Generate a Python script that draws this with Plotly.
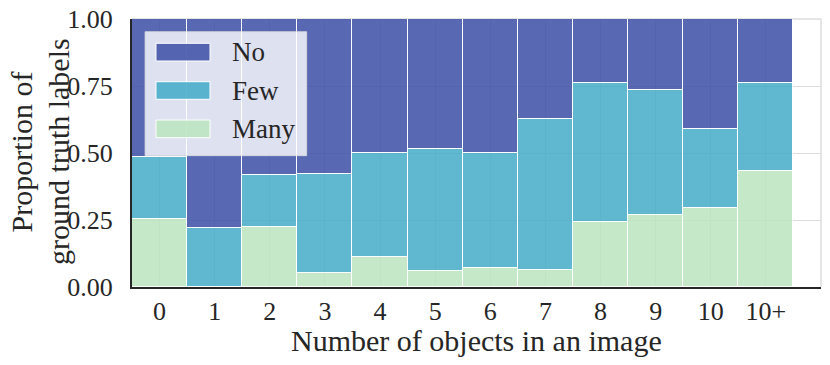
import plotly.graph_objects as go

# categories and proportions
categories = ["0", "1", "2", "3", "4", "5", "6", "7", "8", "9", "10", "10+"]
many = [0.254, 0.0, 0.223, 0.052, 0.112, 0.060, 0.071, 0.062, 0.243, 0.267, 0.295, 0.433]
few = [0.230, 0.221, 0.195, 0.371, 0.388, 0.454, 0.429, 0.566, 0.517, 0.468, 0.296, 0.329]
no = [round(1 - m - f, 3) for m, f in zip(many, few)]

series_names = ["No", "Few", "Many"]
colors = {
    "Many": "rgba(187,228,190,0.85)",
    "Few": "rgba(67,170,200,0.85)",
    "No": "rgba(60,78,165,0.85)",
}

FONT = "Liberation Serif"
TXT = "#262626"
GRID = "#dcdcdc"

fig = go.Figure()
for name, vals in [("Many", many), ("Few", few), ("No", no)]:
    fig.add_trace(go.Bar(
        x=categories, y=vals, name=name,
        marker=dict(color=colors[name], line=dict(color="white", width=1.2)),
        showlegend=False,
    ))

fig.update_layout(
    width=830, height=365,
    margin=dict(l=132, r=9, t=19, b=78),
    barmode="stack", bargap=0,
    paper_bgcolor="white", plot_bgcolor="white",
    font=dict(family=FONT, size=26, color=TXT),
)
fig.update_xaxes(
    type="category", range=[-0.5, 12.0], automargin=False,
    showgrid=True, gridcolor=GRID, gridwidth=1,
    showline=True, linecolor="#262626", linewidth=2,
    ticks="", ticklen=0, ticklabelstandoff=0,
)
fig.update_yaxes(
    range=[0, 1.0], tickvals=[0, 0.25, 0.5, 0.75, 1.0], automargin=False,
    ticktext=["0.00", "0.25", "0.50", "0.75", "1.00"],
    showgrid=True, gridcolor=GRID, gridwidth=1, zeroline=False,
    showline=True, linecolor="#262626", linewidth=2,
    ticks="", ticklen=0, ticklabelstandoff=12,
)

# axis titles
fig.add_annotation(xref="paper", yref="paper", x=0.5, y=-0.198, text="Number of objects in an image",
                   showarrow=False, xanchor="center", yanchor="middle", font=dict(size=30, color=TXT))
for line, xpos in [("Proportion of", -0.16), ("ground truth labels", -0.107)]:
    fig.add_annotation(xref="paper", yref="paper", x=xpos, y=0.505, text=line,
                       textangle=-90, showarrow=False, xanchor="center", yanchor="middle",
                       font=dict(size=30, color=TXT))

# light top / right frame
fig.add_shape(type="line", xref="paper", yref="paper", x0=0, x1=1, y0=1, y1=1,
              line=dict(color=GRID, width=1.5), layer="below")
fig.add_shape(type="line", xref="paper", yref="paper", x0=1, x1=1, y0=0, y1=1,
              line=dict(color=GRID, width=1.5), layer="below")

# legend drawn by hand (wide patches like matplotlib)
fig.add_shape(type="rect", xref="paper", yref="paper", x0=0.019, x1=0.2535, y0=0.49, y1=0.9526,
              fillcolor="rgba(255,255,255,0.8)", line=dict(color="rgba(220,220,220,0.8)", width=1))
patch_y = [(0.8433, 0.9093), (0.7004, 0.766), (0.5571, 0.6231)]
text_y = [0.877, 0.733, 0.59]
for name, (y0, y1), ty in zip(series_names, patch_y, text_y):
    fig.add_shape(type="rect", xref="paper", yref="paper", x0=0.0348, x1=0.1132, y0=y0, y1=y1,
                  fillcolor=colors[name], line=dict(color="white", width=1))
    fig.add_annotation(xref="paper", yref="paper", x=0.142, y=ty, text=name, showarrow=False,
                       xanchor="left", yanchor="middle", font=dict(size=27, color=TXT))

# drop the default body margin so the figure sits at the page corner
fig.write_html("out.html", config={"displayModeBar": False},
               post_script="document.body.style.margin='0';")
